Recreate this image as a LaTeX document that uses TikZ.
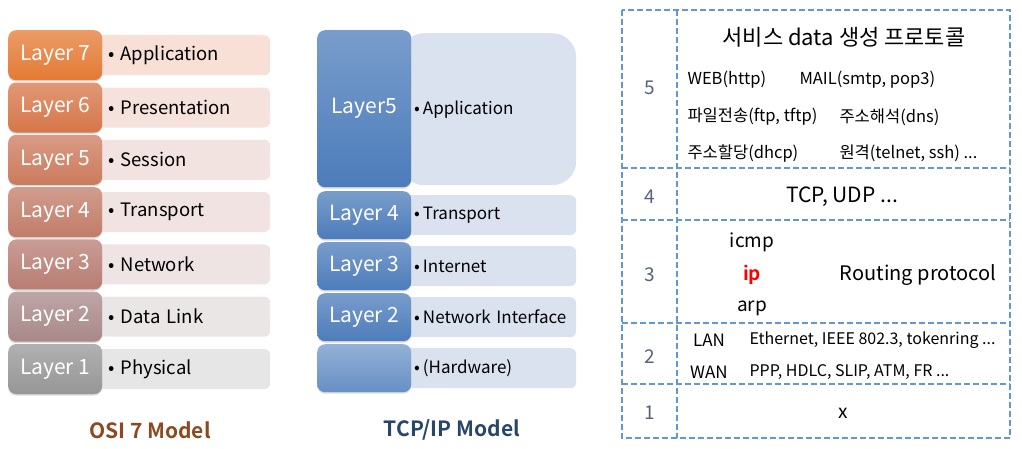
\documentclass[tikz,border=0pt]{standalone}
\usepackage{fontspec}
\setmainfont{Noto Sans CJK KR}[BoldFont={Noto Sans CJK KR Bold}]
\usepackage{tikz}
\usetikzlibrary{positioning, shadows}
\definecolor{o7}{RGB}{228,122,52}
\definecolor{o6}{RGB}{214,118,72}
\definecolor{o5}{RGB}{204,122,92}
\definecolor{o4}{RGB}{194,124,104}
\definecolor{o3}{RGB}{184,124,114}
\definecolor{o2}{RGB}{168,136,136}
\definecolor{o1}{RGB}{150,150,150}
\definecolor{l7}{RGB}{248,224,214}
\definecolor{l6}{RGB}{246,226,220}
\definecolor{l5}{RGB}{242,226,224}
\definecolor{l4}{RGB}{240,227,226}
\definecolor{l3}{RGB}{238,228,228}
\definecolor{l2}{RGB}{234,230,230}
\definecolor{l1}{RGB}{230,230,230}
\definecolor{tcpblue}{RGB}{76,124,186}
\definecolor{tcplight}{RGB}{218,226,240}
\definecolor{osibrown}{RGB}{140,74,32}
\definecolor{tcpnavy}{RGB}{40,70,105}
\definecolor{gridblue}{RGB}{96,152,212}
\definecolor{numgray}{RGB}{85,100,120}

\begin{document}
\begin{tikzpicture}[x=1pt, y=-1pt,
  dk/.style={rounded corners=8pt, minimum width=94pt, anchor=north west, inner sep=0pt,
    text=white, font=\fontsize{21}{24}\selectfont,
    drop shadow={opacity=0.3, shadow xshift=0pt, shadow yshift=-1.5pt}},
  lt/.style={rounded corners=6pt, minimum height=40pt, anchor=north west, align=left},
  title/.style={font=\fontsize{21}{24}\selectfont\bfseries},
  tbl/.style={draw=gridblue, line width=1.4pt, dash pattern=on 6pt off 3pt},
  num/.style={text=numgray, font=\fontsize{19}{22}\selectfont},
  big/.style={font=\fontsize{22}{26}\selectfont},
  mid/.style={font=\fontsize{19}{22}\selectfont},
  sm/.style={font=\fontsize{16.5}{19}\selectfont, anchor=west},
  xs/.style={font=\fontsize{16}{19}\selectfont, anchor=west}
]
  \useasboundingbox (0,0) rectangle (1022,448);

  % OSI 7 layers
  \foreach \n/\txt [count=\i from 0] in {7/Application, 6/Presentation, 5/Session,
      4/Transport, 3/Network, 2/Data Link, 1/Physical} {
    \node[lt, fill=l\n, minimum width=174pt, text width=150pt, inner xsep=12pt,
      font=\fontsize{18.5}{22}\selectfont] (osit\n) at (96, 35+52.3*\i) {\textbullet\ \txt};
    \node[dk, minimum height=50pt, top color=o\n!75!white, bottom color=o\n] (osi\n)
      at (8, 30+52.3*\i) {Layer \n};
  }
  \node[title, text=osibrown] (ositit) at (150,430) {OSI 7 Model};

  % TCP/IP
  \node[lt, fill=tcplight, minimum width=176pt, minimum height=152pt, rounded corners=24pt,
    text width=162pt, inner xsep=7pt, font=\fontsize{17}{20}\selectfont]
    (tcpt5) at (400,33) {\hspace{7pt}\textbullet\hspace{3pt}Application};
  \node[dk, minimum height=157pt, top color=tcpblue!75!white, bottom color=tcpblue]
    (tcp5) at (317,30) {Layer5};
  \foreach \n/\txt [count=\i from 0] in {4/Transport, 3/Internet, 2/Network Interface, h/(Hardware)} {
    \node[lt, fill=tcplight, minimum width=176pt, text width=162pt, inner xsep=7pt,
      font=\fontsize{17}{20}\selectfont] (tcpt\n) at (400, 195+51*\i)
      {\hspace{7pt}\textbullet\hspace{3pt}\txt};
  }
  \foreach \n [count=\i from 0] in {4,3,2} {
    \node[dk, minimum height=48pt, top color=tcpblue!75!white, bottom color=tcpblue]
      (tcp\n) at (317, 191+51*\i) {Layer \n};
  }
  \node[dk, minimum height=48pt, top color=tcpblue!60!white, bottom color=tcpblue!85!white]
    (tcph) at (317,344) {};
  \node[title, text=tcpnavy] (tcptit) at (452,430) {TCP/IP Model};

  % protocol table
  \draw[tbl] (622,10) rectangle (1010,438);
  \draw[tbl] (677,10) -- (677,438);
  \foreach \y in {168,220,323,384} \draw[tbl] (622,\y) -- (1010,\y);

  \node[num] (n5) at (650,88) {5};
  \node[big] (svc) at (844,37) {서비스 data 생성 프로토콜};
  \node[sm] (web) at (684,80) {WEB(http)};
  \node[sm] (mail) at (796,80) {MAIL(smtp, pop3)};
  \node[sm] (ftp) at (684,117) {파일전송(ftp, tftp)};
  \node[sm] (dns) at (836,117) {주소해석(dns)};
  \node[sm] (dhcp) at (684,153) {주소할당(dhcp)};
  \node[sm] (tel) at (836,153) {원격(telnet, ssh) ...};

  \node[num] (n4) at (650,197) {4};
  \node[font=\fontsize{21}{24}\selectfont] (tcpudp) at (842,197) {TCP, UDP ...};

  \node[num] (n3) at (650,275) {3};
  \node[mid] (icmp) at (752,242) {icmp};
  \node[mid, text=red, font=\fontsize{19}{22}\selectfont\bfseries] (ip) at (752,275) {ip};
  \node[mid] (arp) at (752,308) {arp};
  \node[font=\fontsize{20}{24}\selectfont] (route) at (918,275) {Routing protocol};

  \node[num] (n2) at (650,357) {2};
  \node[font=\fontsize{17}{20}\selectfont] (lan) at (709,340) {LAN};
  \node[font=\fontsize{17}{20}\selectfont] (wan) at (709,372) {WAN};
  \node[xs] (eth) at (746,340) {Ethernet, IEEE 802.3, tokenring ...};
  \node[xs] (ppp) at (746,372) {PPP, HDLC, SLIP, ATM, FR ...};

  \node[num] (n1) at (650,413) {1};
  \node[mid] (xx) at (843,413) {x};
\end{tikzpicture}
\end{document}
